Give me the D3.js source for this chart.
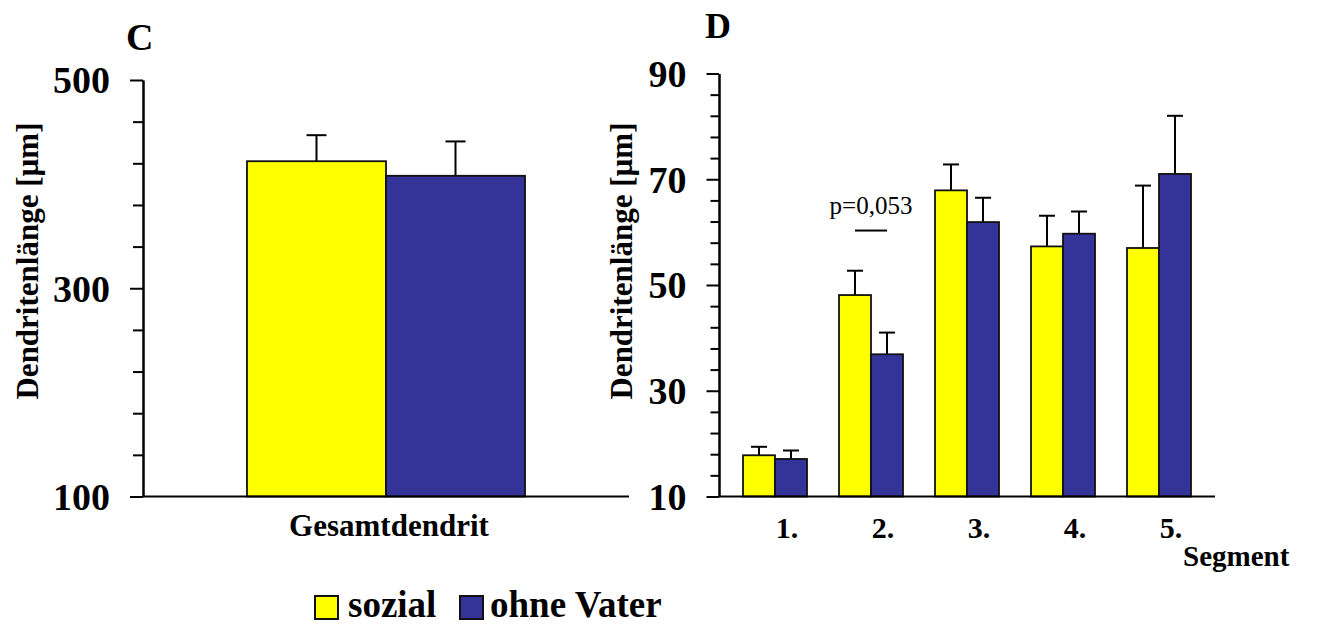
<!DOCTYPE html>
<html>
<head>
<meta charset="utf-8">
<script src="https://cdn.jsdelivr.net/npm/d3@7"></script>
<style>
  html, body { margin: 0; padding: 0; background: #fff; }
  svg { display: block; font-family: "Liberation Serif", "Times New Roman", serif; }
</style>
</head>
<body>
<svg id="chart" width="1317" height="626"></svg>
<script>
// Series and colours
const series = ["sozial", "ohne Vater"];
const seriesColors = ["#FFFF00", "#333399"];

// Panel C: total dendrite length (mean, SEM)
const totalCategory = ["Gesamtdendrit"];
const totalMean = [422, 408];
const totalErr = [25, 33];
const totalMajorTicks = [100, 300, 500];

// Panel D: length per segment (mean, SEM)
const segments = ["1.", "2.", "3.", "4.", "5."];
const sozialMean = [17.8, 48.1, 67.9, 57.3, 57.0];
const sozialErr = [1.6, 4.6, 4.9, 5.8, 11.8];
const ohneMean = [17.1, 36.9, 61.9, 59.7, 71.0];
const ohneErr = [1.6, 4.1, 4.6, 4.2, 11.0];
const segMajorTicks = [10, 30, 50, 70, 90];

// Significance note on segment 2
const pSegment = "2.";
const pLabel = "p=0,053";
const pLineValue = 60.3;
const pTextValue = 63.5;

const svg = d3.select("#chart");
svg.append("rect").attr("width", 1317).attr("height", 626).attr("fill", "#fff");

const BAR_STROKE = "#111";

function drawAxis(g, y, major, minorStep, majorLen, minorLen, labelGap, labelSize) {
  const [d0, d1] = y.domain();
  const minor = d3.range(d0, d1 + minorStep / 2, minorStep).filter(v => !major.includes(v));
  const minorAxis = d3.axisLeft(y).tickValues(minor).tickSize(minorLen).tickSizeOuter(0).tickFormat("");
  const majorAxis = d3.axisLeft(y).tickValues(major).tickSize(majorLen).tickSizeOuter(0)
    .tickPadding(labelGap).tickFormat(d3.format("d"));
  const gm = g.append("g").call(minorAxis);
  const gM = g.append("g").call(majorAxis);
  [gm, gM].forEach(a => {
    a.select(".domain").attr("stroke", "#000").attr("stroke-width", 2);
    a.selectAll(".tick line").attr("stroke", "#000").attr("stroke-width", 2);
  });
  gM.selectAll(".tick text")
    .attr("fill", "#000")
    .style("font-family", "'Liberation Serif', serif")
    .style("font-weight", "bold")
    .style("font-size", labelSize + "px")
    .attr("dy", "0.34em");
}

function errorBar(g, cx, yTop, yErr, cap) {
  g.append("line").attr("x1", cx).attr("x2", cx).attr("y1", yTop).attr("y2", yErr)
    .attr("stroke", "#000").attr("stroke-width", 2);
  g.append("line").attr("x1", cx - cap / 2).attr("x2", cx + cap / 2).attr("y1", yErr).attr("y2", yErr)
    .attr("stroke", "#000").attr("stroke-width", 2);
}

// ---------- Panel C ----------
const yL = d3.scaleLinear().domain([100, 500]).range([496.5, 80]);
const xL = d3.scaleBand().domain(totalCategory).range([143, 629]).paddingInner(0).paddingOuter(0.374);
const xLs = d3.scaleBand().domain(series).range([0, xL.bandwidth()]);
const gC = svg.append("g");

// bars and error bars
series.forEach((s, i) => {
  const x0 = xL(totalCategory[0]) + xLs(s);
  const top = yL(totalMean[i]);
  errorBar(gC, x0 + xLs.bandwidth() / 2, top, yL(totalMean[i] + totalErr[i]), 20);
  gC.append("rect")
    .attr("x", x0).attr("y", top)
    .attr("width", xLs.bandwidth()).attr("height", yL(100) - top)
    .attr("fill", seriesColors[i]).attr("stroke", BAR_STROKE).attr("stroke-width", 1.8);
});
// baseline
gC.append("line").attr("x1", 143).attr("x2", xL.range()[1]).attr("y1", yL(100)).attr("y2", yL(100))
  .attr("stroke", "#000").attr("stroke-width", 2);
drawAxis(gC.append("g").attr("transform", "translate(143,0)"), yL, totalMajorTicks, 40, 13, 10, 20, 38);

gC.append("text").attr("x", xL(totalCategory[0]) + xL.bandwidth() / 2 + 3).attr("y", 536)
  .attr("text-anchor", "middle").style("font-weight", "bold").style("font-size", "31px")
  .text(totalCategory[0]);
gC.append("text").attr("transform", "translate(38,261) rotate(-90)")
  .attr("text-anchor", "middle").style("font-weight", "bold").style("font-size", "31px")
  .text("Dendritenlänge [µm]");
gC.append("text").attr("x", 126).attr("y", 50).style("font-weight", "bold").style("font-size", "38px").text("C");

// ---------- Panel D ----------
const yR = d3.scaleLinear().domain([10, 90]).range([496.5, 73.5]);
const xR = d3.scaleBand().domain(segments).range([719, 1215]).paddingInner(1 / 3).paddingOuter(0.25);
const xRs = d3.scaleBand().domain(series).range([0, xR.bandwidth()]);
const gD = svg.append("g");
const segMeans = [sozialMean, ohneMean];
const segErrs = [sozialErr, ohneErr];

segments.forEach((seg, j) => {
  series.forEach((s, i) => {
    const x0 = xR(seg) + xRs(s);
    const top = yR(segMeans[i][j]);
    errorBar(gD, x0 + xRs.bandwidth() / 2, top, yR(segMeans[i][j] + segErrs[i][j]), 16);
    gD.append("rect")
      .attr("x", x0).attr("y", top)
      .attr("width", xRs.bandwidth()).attr("height", yR(10) - top)
      .attr("fill", seriesColors[i]).attr("stroke", BAR_STROKE).attr("stroke-width", 1.8);
  });
  gD.append("text").attr("x", xR(seg) + xR.bandwidth() / 2 + 12).attr("y", 538)
    .attr("text-anchor", "middle").style("font-weight", "bold").style("font-size", "30px").text(seg);
});
gD.append("line").attr("x1", 719).attr("x2", xR.range()[1]).attr("y1", yR(10)).attr("y2", yR(10))
  .attr("stroke", "#000").attr("stroke-width", 2);
drawAxis(gD.append("g").attr("transform", "translate(719,0)"), yR, segMajorTicks, 4, 12.5, 8.5, 20, 38);

// p-value note between the two bars of segment 2
const pxA = xR(pSegment) + xRs(series[0]) + xRs.bandwidth() / 2;
const pxB = xR(pSegment) + xRs(series[1]) + xRs.bandwidth() / 2;
gD.append("line").attr("x1", pxA).attr("x2", pxB).attr("y1", yR(pLineValue)).attr("y2", yR(pLineValue))
  .attr("stroke", "#000").attr("stroke-width", 2);
gD.append("text").attr("x", (pxA + pxB) / 2).attr("y", yR(pTextValue))
  .attr("text-anchor", "middle").style("font-size", "25px").text(pLabel);

gD.append("text").attr("x", 1183).attr("y", 566).style("font-weight", "bold").style("font-size", "29px").text("Segment");
gD.append("text").attr("transform", "translate(632,261) rotate(-90)")
  .attr("text-anchor", "middle").style("font-weight", "bold").style("font-size", "31px")
  .text("Dendritenlänge [µm]");
gD.append("text").attr("x", 705).attr("y", 38).style("font-weight", "bold").style("font-size", "36px").text("D");

// ---------- Legend ----------
const legend = svg.append("g");
const legendItems = [
  { box: 315, text: 348 },
  { box: 460, text: 490 }
];
series.forEach((s, i) => {
  legend.append("rect").attr("x", legendItems[i].box).attr("y", 596).attr("width", 23).attr("height", 23)
    .attr("fill", seriesColors[i]).attr("stroke", BAR_STROKE).attr("stroke-width", 2);
  legend.append("text").attr("x", legendItems[i].text).attr("y", 617)
    .style("font-weight", "bold").style("font-size", "37px").text(s);
});
</script>
</body>
</html>
